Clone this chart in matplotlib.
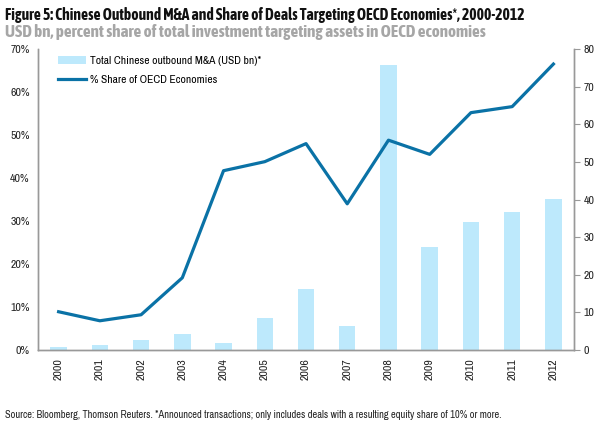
import matplotlib
matplotlib.use("Agg")
import matplotlib.pyplot as plt
from matplotlib import font_manager
import numpy as np

# pick a narrow face if one is installed, preferring one that has a bold cut
faces = font_manager.fontManager.ttflist
narrow = sorted({f.name for f in faces if 'Narrow' in f.name or 'Condensed' in f.name})
narrow_bold = sorted({f.name for f in faces
                      if f.name in narrow and (f.weight in ('bold', 700) or str(f.weight) == '700')})
FONT = narrow[0] if narrow else 'Roboto'
TITLE_FONT = narrow_bold[0] if narrow_bold else FONT
plt.rcParams['font.family'] = [FONT, 'DejaVu Sans']

# Data
years = ['2000', '2001', '2002', '2003', '2004', '2005', '2006',
         '2007', '2008', '2009', '2010', '2011', '2012']
outbound_usd_bn = [0.9, 1.4, 2.6, 4.3, 1.9, 8.4, 16.3, 6.4, 75.8, 27.3, 33.9, 36.7, 40.2]
oecd_share_pct = [8.9, 6.8, 8.2, 16.8, 41.7, 43.8, 48.0, 34.0, 48.8, 45.5, 55.2, 56.6, 66.5]

BAR_COLOR = '#BDE9FC'
LINE_COLOR = '#0A72A6'
AXIS_GREY = '#999999'

fig = plt.figure(figsize=(6.05, 4.28), dpi=100)
ax = fig.add_axes([0.0628, 0.1822, 0.886, 0.7033])
ax2 = ax.twinx()

x = np.arange(len(years))

# bars on the right axis (USD bn), line on the left axis (%)
bars = ax2.bar(x, outbound_usd_bn, width=0.4, color=BAR_COLOR,
               label='Total Chinese outbound M&A (USD bn)*', zorder=1)
line, = ax.plot(x, oecd_share_pct, color=LINE_COLOR, linewidth=2.3,
                label='% Share of OECD Economies', zorder=3)
ax.set_zorder(ax2.get_zorder() + 1)
ax.patch.set_visible(False)

ax.set_xlim(-0.5, len(years) - 0.5)
ax.set_ylim(0, 70)
ax2.set_ylim(0, 80)
ax.set_yticks(range(0, 71, 10))
ax.set_yticklabels([f'{v}%' for v in range(0, 71, 10)])
ax2.set_yticks(range(0, 81, 10))
ax.set_xticks(x)
ax.set_xticklabels(years, rotation=90)

for a in (ax, ax2):
    a.spines['top'].set_visible(False)
    for s in ('left', 'right', 'bottom'):
        a.spines[s].set_color(AXIS_GREY)
        a.spines[s].set_linewidth(1.0)
    a.tick_params(labelsize=8.5, colors='#222222')

ax.tick_params(axis='y', length=0, pad=6)
ax.tick_params(axis='x', length=0, pad=6)
ax2.tick_params(axis='y', length=4, color=AXIS_GREY, pad=3)

ax.legend([bars, line], [bars.get_label(), line.get_label()],
          loc='upper left', bbox_to_anchor=(0.025, 1.0), frameon=False,
          fontsize=8.3, handlelength=2.4, handletextpad=0.35,
          labelspacing=0.8, borderaxespad=0.2)

fig.text(0.008, 0.965, 'Figure 5: Chinese Outbound M&A and Share of Deals Targeting OECD Economies*, 2000-2012',
         fontsize=11.2, fontweight='bold', family=[TITLE_FONT, 'DejaVu Sans'],
         color='#111111', va='center')
fig.text(0.008, 0.926, 'USD bn, percent share of total investment targeting assets in OECD economies',
         fontsize=12.3, fontweight='bold', family=[TITLE_FONT, 'DejaVu Sans'],
         color='#A6A6A6', va='center')
fig.text(0.008, 0.03, 'Source: Bloomberg, Thomson Reuters. *Announced transactions; only includes deals with a resulting equity share of 10% or more.',
         fontsize=7.5, color='#222222', va='center')

fig.savefig('out.png', dpi=100)
